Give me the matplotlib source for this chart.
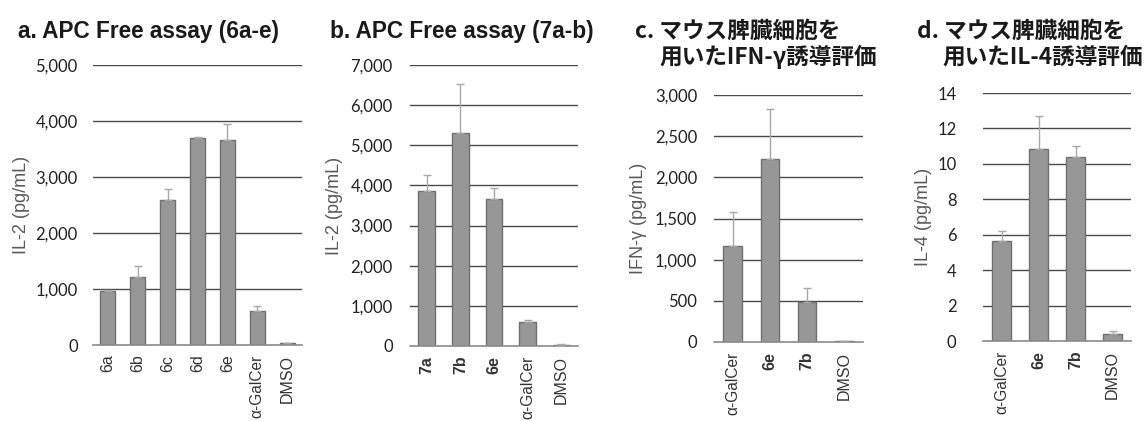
import matplotlib
matplotlib.use("Agg")
import matplotlib.pyplot as plt
import numpy as np

# ---- data ----
a_cats = ["6a", "6b", "6c", "6d", "6e", "α-GalCer", "DMSO"]
a_vals = [960, 1220, 2590, 3690, 3660, 600, 30]
a_errs = [30, 190, 190, 20, 280, 90, 10]
a_ticks = [0, 1000, 2000, 3000, 4000, 5000]

b_cats = ["7a", "7b", "6e", "α-GalCer", "DMSO"]
b_vals = [3850, 5300, 3650, 600, 20]
b_errs = [420, 1230, 290, 60, 20]
b_ticks = [0, 1000, 2000, 3000, 4000, 5000, 6000, 7000]

c_cats = ["α-GalCer", "6e", "7b", "DMSO"]
c_vals = [1160, 2220, 490, 10]
c_errs = [420, 610, 160, 5]
c_ticks = [0, 500, 1000, 1500, 2000, 2500, 3000]

d_cats = ["α-GalCer", "6e", "7b", "DMSO"]
d_vals = [5.65, 10.85, 10.4, 0.4]
d_errs = [0.55, 1.85, 0.6, 0.15]
d_ticks = [0, 2, 4, 6, 8, 10, 12, 14]

W, H = 1146, 421
fig = plt.figure(figsize=(W / 100, H / 100), dpi=100)

TICKFONT = "Lato"
LABFONT = "Liberation Sans"
JP = ["Noto Sans CJK JP", "DejaVu Sans"]


def make_ax(x0, x1, ytop, ybot):
    return fig.add_axes([x0 / W, 1 - ybot / H, (x1 - x0) / W, (ybot - ytop) / H])


def panel(ax, cats, vals, errs, ticks, ylabel, bold_set, fmt, ylab_x, ypad):
    x = np.arange(len(cats))
    ax.set_axisbelow(True)
    for t in ticks[1:]:
        ax.axhline(t, color="#4a4a4a", lw=1.0, zorder=0)
    ax.bar(x, vals, width=0.5, color="#979797", edgecolor="#6f6f6f", lw=1.0, zorder=2)
    ax.errorbar(x, vals, yerr=[np.zeros(len(vals)), errs], fmt="none",
                ecolor="#a8a8a8", elinewidth=1.0, capsize=3, capthick=1.0, zorder=3)
    ax.set_xlim(-0.5, len(cats) - 0.5)
    ax.set_ylim(0, ticks[-1])
    ax.set_yticks(ticks)
    ax.set_yticklabels([fmt(t) for t in ticks], fontfamily=TICKFONT, fontsize=12, color="#222222")
    ax.set_xticks(x)
    ax.set_xticklabels(cats, rotation=90, fontsize=11.5, fontfamily=LABFONT, color="#333333")
    for lbl, c in zip(ax.get_xticklabels(), cats):
        if c in bold_set:
            lbl.set_fontweight("bold")
        if c.startswith("α"):
            lbl.set_fontsize(11.2)
    ax.tick_params(axis="both", length=0)
    ax.tick_params(axis="y", pad=ypad)
    ax.tick_params(axis="x", pad=7)
    for s in ["top", "right", "left"]:
        ax.spines[s].set_visible(False)
    ax.spines["bottom"].set_color("#8a8a8a")
    ax.spines["bottom"].set_linewidth(1.2)
    ax.set_ylabel(ylabel, fontfamily=LABFONT, fontsize=13, color="#5a5a5a")
    ax.yaxis.set_label_coords(ylab_x, 0.5)


comma = lambda t: f"{t:,}"
plain = lambda t: f"{t}"

ax_a = make_ax(93, 302, 65, 345)
panel(ax_a, a_cats, a_vals, a_errs, a_ticks, "IL-2 (pg/mL)", set(), comma, -0.30, 11)
ax_b = make_ax(410, 578, 65, 346)
panel(ax_b, b_cats, b_vals, b_errs, b_ticks, "IL-2 (pg/mL)", {"7a", "7b", "6e"}, comma, -0.40, 12.5)
ax_c = make_ax(714, 863, 95, 342)
panel(ax_c, c_cats, c_vals, c_errs, c_ticks, "IFN-γ (pg/mL)", {"6e", "7b"}, comma, -0.45, 12)
ax_d = make_ax(983, 1131, 93, 341)
panel(ax_d, d_cats, d_vals, d_errs, d_ticks, "IL-4 (pg/mL)", {"6e", "7b"}, plain, -0.345, 19)

tkw = dict(fontsize=16.3, fontweight="bold", color="#1a1a1a", va="baseline", ha="left")
fig.text(18 / W, 1 - 38 / H, "a. APC Free assay (6a-e)", fontfamily="Liberation Sans", **tkw)
fig.text(330 / W, 1 - 38 / H, "b. APC Free assay (7a-b)", fontfamily="Liberation Sans", **tkw)
fig.text(635 / W, 1 - 38 / H, "c. マウス脾臓細胞を", fontfamily=JP, **tkw)
fig.text(659 / W, 1 - 64 / H, "用いたIFN-γ誘導評価", fontfamily=JP, **tkw)
fig.text(917 / W, 1 - 38 / H, "d. マウス脾臓細胞を", fontfamily=JP, **tkw)
fig.text(942 / W, 1 - 64 / H, "用いたIL-4誘導評価", fontfamily=JP, **tkw)

fig.savefig("out.png", dpi=100)
